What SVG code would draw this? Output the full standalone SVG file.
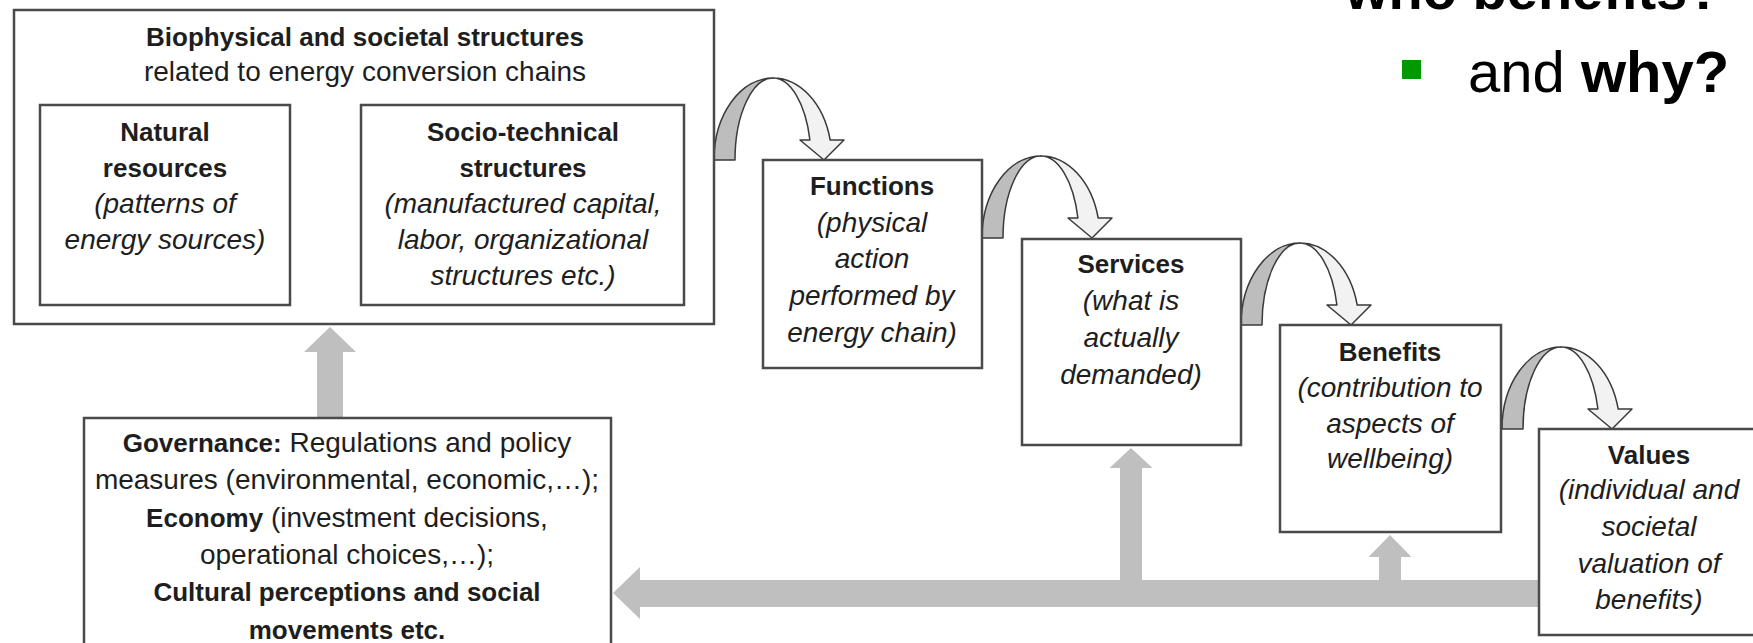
<svg xmlns="http://www.w3.org/2000/svg" xmlns:xlink="http://www.w3.org/1999/xlink" width="1753" height="643" viewBox="0 0 1753 643">
<style>
.box{fill:#fff;stroke:#4a4a4a;stroke-width:2.5}
.t{font-family:"Liberation Sans",Arial,sans-serif;font-size:28px;fill:#1e1e1e;text-anchor:middle}
.b{font-weight:bold;font-size:26px}
.i{font-style:italic}
.arr{fill:#bfbfbf;stroke:none}
.cdark{fill:#bdbdbd;stroke:#3a3a3a;stroke-width:1.5;stroke-linejoin:round}
.clight{fill:#f2f2f2;stroke:#3a3a3a;stroke-width:1.5;stroke-linejoin:round}
.big{font-family:"Liberation Sans",Arial,sans-serif;font-size:56px;fill:#000}
.big2{font-size:58px}
</style>
<defs>
<g id="curv">
<path class="cdark" d="M0,0 A59,82 0 0 1 59,-82 A38,82 0 0 0 21,0 Z"/>
<path class="clight" d="M59,-82 A59,82 0 0 1 116.2,-20 L130,-20 L110,0 L86,-20 L95.9,-20 A38,82 0 0 0 59,-82 Z"/>
</g>
</defs>
<rect width="1753" height="643" fill="#fff"/>

<g id="connectors">
<path class="arr" d="M294,199 L309,183.5 L309,191.5 L345,191.5 L345,183.5 L360,199 L345,214.5 L345,206.5 L309,206.5 L309,214.5 Z"/>
<path class="arr" d="M330,327 L356,352 L343,352 L343,418 L317,418 L317,352 L304,352 Z"/>
<path class="arr" d="M613,593 L640,567 L640,580 L1540,580 L1540,607 L640,607 L640,619 Z"/>
<path class="arr" d="M1131,448 L1152.5,468 L1142,468 L1142,582 L1120,582 L1120,468 L1109.5,468 Z"/>
<path class="arr" d="M1390,535 L1411.5,557 L1401,557 L1401,582 L1379,582 L1379,557 L1368.5,557 Z"/>
<use xlink:href="#curv" href="#curv" transform="translate(714,160)"/>
<use xlink:href="#curv" href="#curv" transform="translate(982,238)"/>
<use xlink:href="#curv" href="#curv" transform="translate(1241,325)"/>
<use xlink:href="#curv" href="#curv" transform="translate(1502,429)"/>
</g>

<g id="structures">
<rect class="box" x="14" y="10" width="700" height="314"/>
<text class="t b" x="365" y="46">Biophysical and societal structures</text>
<text class="t" x="365" y="81">related to energy conversion chains</text>
</g>

<g id="natural">
<rect class="box" x="40" y="105" width="250" height="200"/>
<text class="t b" x="165" y="141">Natural</text>
<text class="t b" x="165" y="177">resources</text>
<text class="t i" x="165" y="213">(patterns of</text>
<text class="t i" x="165" y="249">energy sources)</text>
</g>

<g id="socio">
<rect class="box" x="361" y="105" width="323" height="200"/>
<text class="t b" x="523" y="141">Socio-technical</text>
<text class="t b" x="523" y="177">structures</text>
<text class="t i" x="523" y="213">(manufactured capital,</text>
<text class="t i" x="523" y="249">labor, organizational</text>
<text class="t i" x="523" y="285">structures etc.)</text>
</g>

<g id="functions">
<rect class="box" x="763" y="160" width="219" height="208"/>
<text class="t b" x="872" y="195">Functions</text>
<text class="t i" x="872" y="232">(physical</text>
<text class="t i" x="872" y="268">action</text>
<text class="t i" x="872" y="305">performed by</text>
<text class="t i" x="872" y="342">energy chain)</text>
</g>

<g id="services">
<rect class="box" x="1022" y="239" width="219" height="206"/>
<text class="t b" x="1131" y="273">Services</text>
<text class="t i" x="1131" y="310">(what is</text>
<text class="t i" x="1131" y="347">actually</text>
<text class="t i" x="1131" y="384">demanded)</text>
</g>

<g id="benefits">
<rect class="box" x="1280" y="325" width="221" height="207"/>
<text class="t b" x="1390" y="361">Benefits</text>
<text class="t i" x="1390" y="397">(contribution to</text>
<text class="t i" x="1390" y="433">aspects of</text>
<text class="t i" x="1390" y="468">wellbeing)</text>
</g>

<g id="values">
<rect class="box" x="1539" y="429" width="220" height="206"/>
<text class="t b" x="1649" y="464">Values</text>
<text class="t i" x="1649" y="499">(individual and</text>
<text class="t i" x="1649" y="536">societal</text>
<text class="t i" x="1649" y="573">valuation of</text>
<text class="t i" x="1649" y="609">benefits)</text>
</g>

<g id="governance">
<rect class="box" x="84" y="418" width="527" height="240"/>
<text class="t" x="347" y="452"><tspan font-weight="bold" style="font-size:26px">Governance:</tspan> Regulations and policy</text>
<text class="t" x="347" y="489">measures (environmental, economic,…);</text>
<text class="t" x="347" y="527"><tspan font-weight="bold" style="font-size:26px">Economy</tspan> (investment decisions,</text>
<text class="t" x="347" y="564">operational choices,…);</text>
<text class="t b" x="347" y="601">Cultural perceptions and social</text>
<text class="t b" x="347" y="639">movements etc.</text>
</g>

<g id="heading">
<text class="big" x="1345" y="9" font-weight="bold">who benefits?</text>
<rect x="1402" y="60" width="19" height="19" fill="#009900"/>
<text class="big big2" x="1468" y="92">and <tspan font-weight="bold">why?</tspan></text>
</g>
</svg>
